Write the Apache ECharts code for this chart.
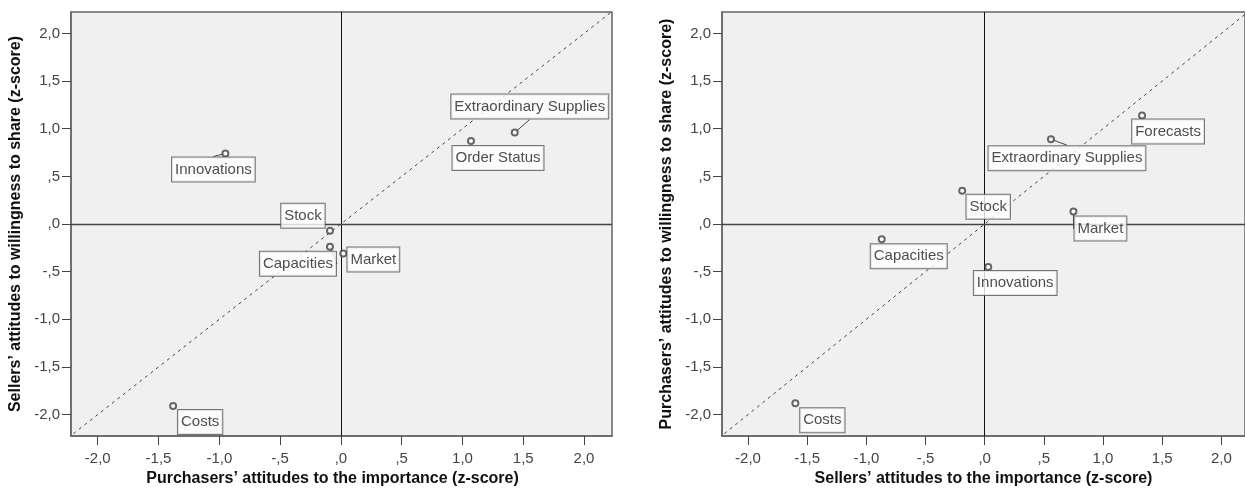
<!DOCTYPE html>
<html>
<head>
<meta charset="utf-8">
<script src="https://cdn.jsdelivr.net/npm/echarts@6/dist/echarts.min.js"></script>
<style>html,body{margin:0;padding:0;background:#fff}#c{width:1245px;height:492px}</style>
</head>
<body>
<div id="c"></div>
<script>
// ---- data ----
const leftNames = ['Innovations','Extraordinary Supplies','Order Status','Stock','Capacities','Market','Costs'];
const leftX = [-0.95, 1.43, 1.07, -0.09, -0.09, 0.02, -1.38];
const leftY = [0.74, 0.96, 0.87, -0.07, -0.24, -0.31, -1.91];

const rightNames = ['Forecasts','Extraordinary Supplies','Stock','Market','Capacities','Innovations','Costs'];
const rightX = [1.33, 0.56, -0.19, 0.75, -0.87, 0.03, -1.60];
const rightY = [1.14, 0.89, 0.35, 0.13, -0.16, -0.45, -1.88];

const tickValues = [-2, -1.5, -1, -0.5, 0, 0.5, 1, 1.5, 2];
const tickLabels = ['-2,0','-1,5','-1,0','-,5',',0',',5','1,0','1,5','2,0'];

const leftXTitle = 'Purchasers’ attitudes to the importance (z-score)';
const leftYTitle = 'Sellers’ attitudes to willingness to share (z-score)';
const rightXTitle = 'Sellers’ attitudes to the importance (z-score)';
const rightYTitle = 'Purchasers’ attitudes to willingness to share (z-score)';

// ---- label placement (layout: px offset of label box centre from point, show connector) ----
const leftLabelLayout = [[-12,16,true],[15,-26,true],[27,17,false],[-27,-15,false],[-32,17,true],[30,6,false],[27,16,false]];
const rightLabelLayout = [[26,16,false],[16,19,true],[26,16,false],[27,17,true],[27,17,false],[27,16,false],[27,17,false]];

// ---- build ----
const FONT = 'Liberation Sans, Arial, sans-serif';
function fmt(v){
  for (let i=0;i<tickValues.length;i++) if (Math.abs(tickValues[i]-v)<1e-9) return tickLabels[i];
  return '';
}
function xAxis(gi, min, max, name){
  return {
    type:'value', gridIndex:gi, min:min, max:max,
    name:name, nameLocation:'middle', nameGap:30,
    nameTextStyle:{fontFamily:FONT, fontWeight:'bold', fontSize:16, color:'#111', padding: gi===0 ? [0,18,0,0] : 0},
    axisLine:{show:true, onZero:false, lineStyle:{color:'#666', width:1.5}},
    axisTick:{show:true, length:9, customValues:tickValues, lineStyle:{color:'#444'}},
    axisLabel:{customValues:tickValues, formatter:fmt, margin:15, fontFamily:FONT, fontSize:15, color:'#444'},
    splitLine:{show:false}
  };
}
function yAxis(gi, name){
  return {
    type:'value', gridIndex:gi, min:-2.225, max:2.225,
    name:name, nameLocation:'middle', nameGap:47,
    nameTextStyle:{fontFamily:FONT, fontWeight:'bold', fontSize:16, color:'#111'},
    axisLine:{show:true, onZero:false, lineStyle:{color:'#666', width:1.5}},
    axisTick:{show:true, length:9, customValues:tickValues, lineStyle:{color:'#444'}},
    axisLabel:{customValues:tickValues, formatter:fmt, margin:11, fontFamily:FONT, fontSize:15, color:'#444'},
    splitLine:{show:false}
  };
}
function scatter(gi, names, xs, ys, lay){
  return {
    type:'scatter', xAxisIndex:gi, yAxisIndex:gi, z:5,
    symbol:'emptyCircle', symbolSize:6,
    itemStyle:{color:'#444', borderWidth:1},
    data: names.map((n,i)=>({name:n, value:[xs[i], ys[i]], labelLine:{show:lay[i][2]}})),
    label:{
      show:true, position:'inside', formatter:'{b}',
      fontFamily:FONT, fontSize:15, color:'#222', lineHeight:17,
      backgroundColor:'#fff', borderColor:'#555', borderWidth:1, padding:[4,3,3,3]
    },
    labelLine:{show:true, lineStyle:{color:'#444', width:1}},
    labelLayout: function(p){ const o = lay[p.dataIndex]; return {dx:o[0], dy:o[1]}; },
    emphasis:{disabled:true}
  };
}
function refs(gi, lo, hi){
  return [{
    type:'line', xAxisIndex:gi, yAxisIndex:gi, z:2, silent:true,
    data:[[lo,lo],[hi,hi]], showSymbol:false, symbol:'none',
    lineStyle:{color:'#444', width:1, type:[3,4]},
    markLine:{
      silent:true, symbol:'none', label:{show:false}, animation:false,
      data:[{xAxis:0, lineStyle:{color:'#111', width:1, type:'solid'}},
            {yAxis:0, lineStyle:{color:'#444', width:1.3, type:'solid'}}]
    }
  }];
}
const chart = echarts.init(document.getElementById('c'), null, {renderer:'canvas'});
chart.setOption({
  animation:false,
  backgroundColor:'#fff',
  grid:[
    {left:71, top:12, width:541, height:424, show:true, backgroundColor:'#F0F0F0', borderColor:'#666', borderWidth:1.5},
    {left:722, top:12, width:523, height:424, show:true, backgroundColor:'#F0F0F0', borderColor:'#666', borderWidth:1.5}
  ],
  xAxis:[xAxis(0,-2.22,2.23,leftXTitle), xAxis(1,-2.22,2.2,rightXTitle)],
  yAxis:[yAxis(0,leftYTitle), yAxis(1,rightYTitle)],
  series:[
    ...refs(0,-2.2,2.23),
    ...refs(1,-2.2,2.2),
    scatter(0,leftNames,leftX,leftY,leftLabelLayout),
    scatter(1,rightNames,rightX,rightY,rightLabelLayout)
  ]
});
</script>
</body>
</html>
